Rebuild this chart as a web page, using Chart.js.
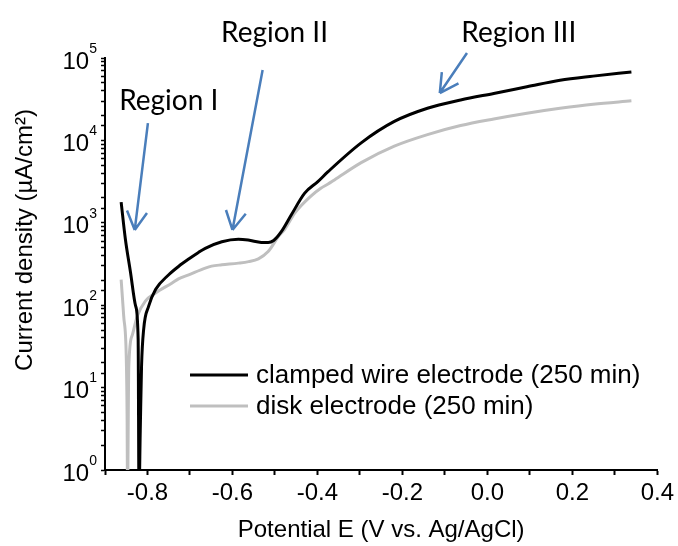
<!DOCTYPE html>
<html>
<head>
<meta charset="utf-8">
<script src="https://cdn.jsdelivr.net/npm/chart.js@4"></script>
<style>
  html, body { margin: 0; padding: 0; background: #fff; }
  #wrap { width: 678px; height: 546px; }
</style>
</head>
<body>
<div id="wrap"><canvas id="chart"></canvas></div>
<script>
// clamped wire electrode (black)
const wirePotential = [-0.862, -0.852, -0.840, -0.828, -0.822, -0.820, -0.817, -0.814, -0.809, -0.797, -0.781, -0.750, -0.727,
    -0.703, -0.680, -0.664, -0.625, -0.586, -0.563, -0.532, -0.516, -0.503, -0.485, -0.461, -0.430, -0.399, -0.375,
    -0.297, -0.219, -0.141, -0.063, 0.015, 0.093, 0.171, 0.249, 0.339];
const wireCurrent = [1780, 631, 251, 98, 39, 0.5, 3, 18, 51, 98, 155, 234, 295,
    363, 437, 490, 589, 631, 617, 578, 575, 610, 780, 1260, 2291, 3162, 4169,
    9333, 16982, 24547, 30903, 37154, 44668, 53703, 60256, 67608];

// disk electrode (grey)
const diskPotential = [-0.862, -0.856, -0.850, -0.848, -0.847, -0.844, -0.836, -0.824, -0.805, -0.781, -0.742, -0.727, -0.703,
    -0.664, -0.649, -0.625, -0.586, -0.562, -0.539, -0.516, -0.492, -0.477, -0.453, -0.414, -0.392, -0.375, -0.360,
    -0.297, -0.219, -0.141, -0.063, 0.015, 0.093, 0.171, 0.249, 0.339];
const diskCurrent = [204, 74, 24, 4.6, 0.5, 18, 43, 74, 112, 141, 186, 209, 234,
    282, 298, 309, 324, 338, 365, 447, 680, 832, 1318, 2138, 2630, 2951, 3311,
    5370, 8511, 11749, 15136, 18197, 21380, 24547, 27542, 30200];

const xTickLabels = ['-0.8', '-0.6', '-0.4', '-0.2', '0.0', '0.2', '0.4'];
const yTickExponents = [0, 1, 2, 3, 4, 5];

// region labels and arrows, in data units (y as log10)
const regionNames = ['Region I', 'Region II', 'Region III'];
const regionLabelPos = [[-0.750, 4.478], [-0.501, 5.303], [0.074, 5.303]];
const arrowTail = [[-0.799, 4.21], [-0.529, 4.854], [-0.048, 5.06]];
const arrowTip = [[-0.830, 2.913], [-0.600, 2.913], [-0.112, 4.575]];

const arialFont = '"Liberation Sans", Arial, sans-serif';

function toPoints(xs, ys) {
    return xs.map((x, i) => ({ x: x, y: ys[i] }));
}

const extras = {
    id: 'extras',
    afterDraw(chart) {
        const ctx = chart.ctx;
        const xs = chart.scales.x;
        const ys = chart.scales.y;
        ctx.save();

        // y tick labels with superscript
        ctx.fillStyle = '#000';
        ctx.textBaseline = 'middle';
        yTickExponents.forEach(e => {
            const py = ys.getPixelForValue(Math.pow(10, e));
            ctx.font = '14px ' + arialFont;
            const ew = ctx.measureText(String(e)).width;
            ctx.textAlign = 'right';
            ctx.fillText(String(e), 97, py - 9);
            ctx.font = '24px ' + arialFont;
            ctx.fillText('10', 97 - ew, py + 4);
        });

        // axis titles
        ctx.font = '24px ' + arialFont;
        ctx.textAlign = 'center';
        ctx.fillText('Potential E (V vs. Ag/AgCl)', (chart.chartArea.left + chart.chartArea.right) / 2, 530);
        ctx.save();
        ctx.translate(25, 240);
        ctx.rotate(-Math.PI / 2);
        ctx.fillText('Current density (µA/cm²)', 0, 0);
        ctx.restore();

        // legend
        ctx.font = '26px ' + arialFont;
        chart.data.datasets.forEach((ds, i) => {
            const ly = 375 + i * 31;
            ctx.strokeStyle = ds.borderColor;
            ctx.lineWidth = 3;
            ctx.beginPath();
            ctx.moveTo(190, ly);
            ctx.lineTo(248, ly);
            ctx.stroke();
            ctx.fillStyle = '#000';
            ctx.textAlign = 'left';
            ctx.fillText(ds.label, 256, ly + 1);
        });

        // arrows
        ctx.strokeStyle = '#4A7EBB';
        ctx.lineWidth = 2.5;
        arrowTail.forEach((t, i) => {
            const x1 = xs.getPixelForValue(t[0]);
            const y1 = ys.getPixelForValue(Math.pow(10, t[1]));
            const x2 = xs.getPixelForValue(arrowTip[i][0]);
            const y2 = ys.getPixelForValue(Math.pow(10, arrowTip[i][1]));
            const ang = Math.atan2(y2 - y1, x2 - x1);
            ctx.beginPath();
            ctx.moveTo(x1, y1);
            ctx.lineTo(x2, y2);
            [-0.5, 0.5].forEach(d => {
                ctx.moveTo(x2, y2);
                ctx.lineTo(x2 - 21 * Math.cos(ang + d), y2 - 21 * Math.sin(ang + d));
            });
            ctx.stroke();
        });

        // region labels
        ctx.fillStyle = '#000';
        ctx.font = '28px Lato, "Open Sans", sans-serif';
        ctx.textAlign = 'center';
        regionNames.forEach((name, i) => {
            const p = regionLabelPos[i];
            ctx.fillText(name, xs.getPixelForValue(p[0]), ys.getPixelForValue(Math.pow(10, p[1])));
        });
        ctx.restore();
    }
};

new Chart(document.getElementById('chart'), {
    type: 'scatter',
    data: {
        datasets: [{
            label: 'clamped wire electrode (250 min)',
            data: toPoints(wirePotential, wireCurrent),
            borderColor: '#000000',
            borderWidth: 3,
            showLine: true,
            pointRadius: 0,
            cubicInterpolationMode: 'monotone'
        }, {
            label: 'disk electrode (250 min)',
            data: toPoints(diskPotential, diskCurrent),
            borderColor: '#BFBFBF',
            borderWidth: 3,
            showLine: true,
            pointRadius: 0,
            cubicInterpolationMode: 'monotone'
        }]
    },
    options: {
        responsive: true,
        maintainAspectRatio: false,
        animation: false,
        layout: { padding: { left: 0, right: 19, top: 58, bottom: 0 } },
        plugins: {
            legend: { display: false },
            tooltip: { enabled: false }
        },
        scales: {
            x: {
                type: 'linear',
                min: -0.9,
                max: 0.4,
                border: { color: '#000', width: 2 },
                grid: { drawOnChartArea: false, color: '#000', tickLength: 5, tickWidth: 2 },
                ticks: {
                    stepSize: 0.1,
                    autoSkip: false,
                    maxRotation: 0,
                    color: '#000',
                    padding: 4,
                    font: { family: arialFont, size: 24 },
                    callback: function (value) {
                        const label = value.toFixed(1) === '-0.0' ? '0.0' : value.toFixed(1);
                        return xTickLabels.includes(label) ? label : '';
                    }
                },
                afterFit: function (scale) { scale.height = 76; }
            },
            y: {
                type: 'logarithmic',
                min: 1,
                max: 100000,
                border: { color: '#000', width: 2 },
                grid: { drawOnChartArea: false, color: '#000', tickLength: 4, tickWidth: 1.5 },
                ticks: {
                    autoSkip: false,
                    callback: function () { return ''; }
                },
                afterFit: function (scale) { scale.width = 105; }
            }
        }
    },
    plugins: [extras]
});
</script>
</body>
</html>
